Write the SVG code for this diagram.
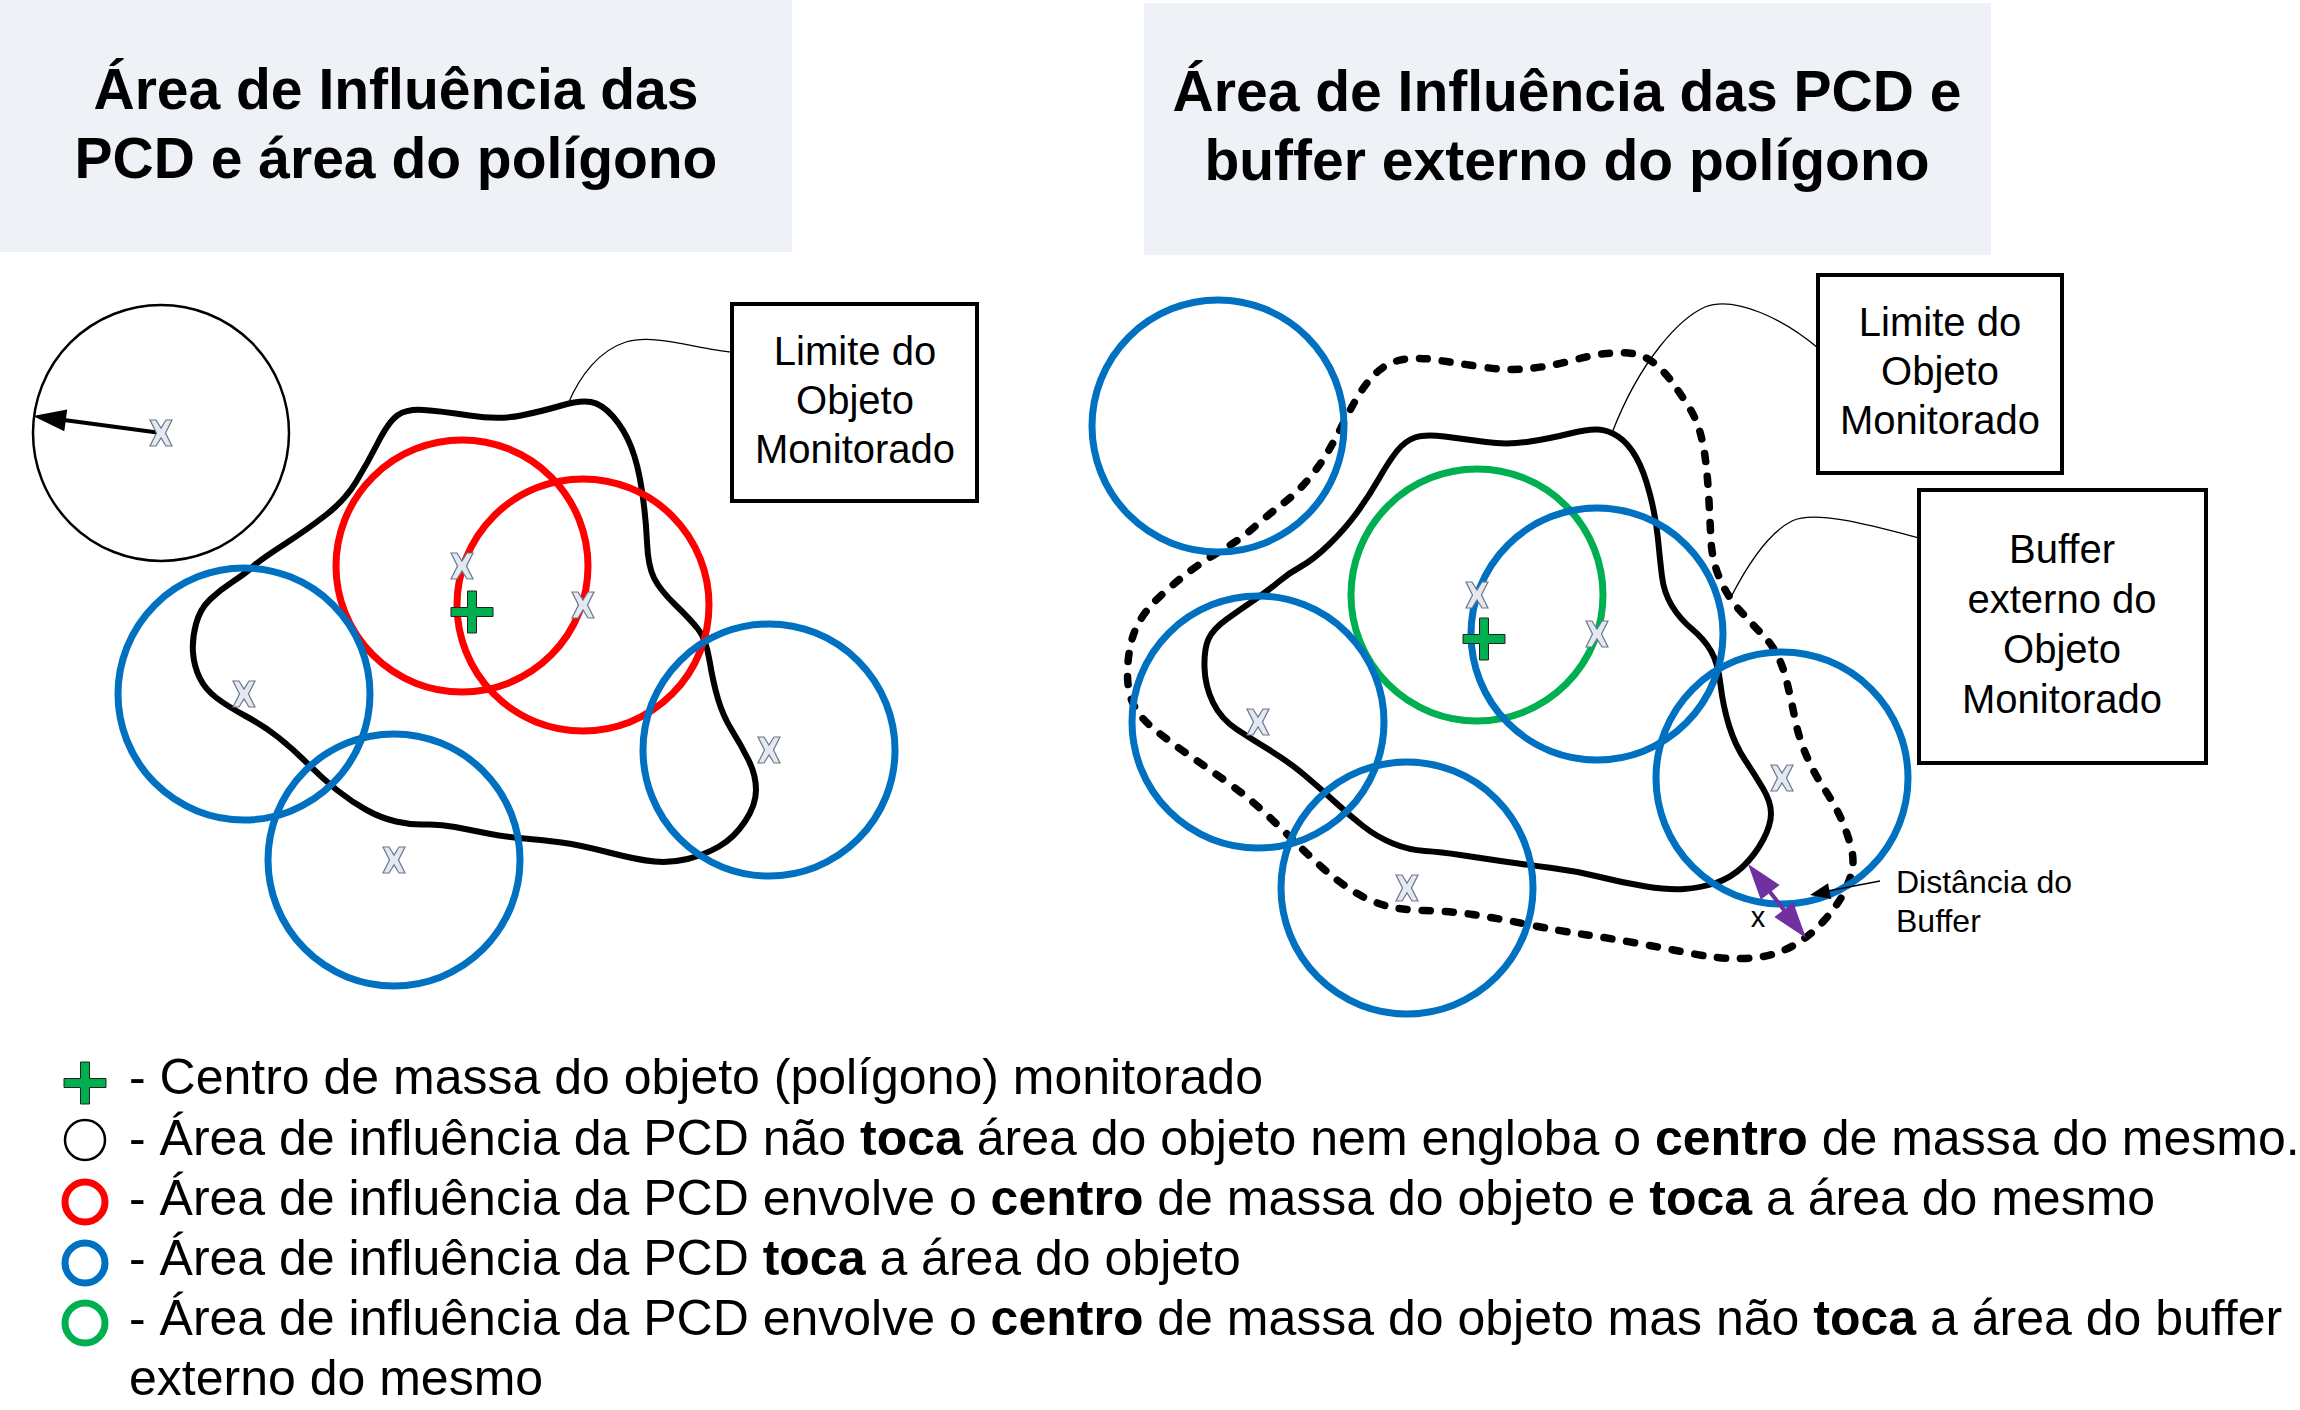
<svg xmlns="http://www.w3.org/2000/svg" width="2300" height="1410" viewBox="0 0 2300 1410">
<style>
.t{font-family:"Liberation Sans",Arial,sans-serif;fill:#000}
.b{font-weight:bold}
.hdr{fill:#EEF1F6}
.box{fill:#fff;stroke:#000;stroke-width:4}
.poly{fill:none;stroke:#000;stroke-width:6;stroke-linejoin:round}
.dash{fill:none;stroke:#000;stroke-width:7.5;stroke-dasharray:8 15;stroke-linecap:round}
.red{fill:none;stroke:#FF0000;stroke-width:7}
.blue{fill:none;stroke:#0070C0;stroke-width:7}
.green{fill:none;stroke:#00B050;stroke-width:7}
.thin{fill:none;stroke:#000;stroke-width:2.5}
.lead{fill:none;stroke:#000;stroke-width:1.3}
</style>
<defs>
<polygon id="xm" points="-11,-13 -5,-13 0,-5 5,-13 11,-13 4.5,0 11,13 5,13 0,5 -5,13 -11,13 -4.5,0" fill="#E3E8F1" stroke="#6A768A" stroke-width="1.2"/>
<polygon id="plus" points="-4.5,-21 4.5,-21 4.5,-4.5 21,-4.5 21,4.5 4.5,4.5 4.5,21 -4.5,21 -4.5,4.5 -21,4.5 -21,-4.5 -4.5,-4.5" fill="#00B050" stroke="#222" stroke-width="1"/>
</defs>
<rect width="2300" height="1410" fill="#fff"/>

<g id="title-left">
<rect class="hdr" x="0" y="0" width="792" height="252"/>
<text class="t b" font-size="57" text-anchor="middle"><tspan x="396" y="109">Área de Influência das</tspan><tspan x="396" y="178">PCD e área do polígono</tspan></text>
</g>
<g id="title-right">
<rect class="hdr" x="1144" y="3" width="847" height="252"/>
<text class="t b" font-size="57" text-anchor="middle"><tspan x="1567" y="111">Área de Influência das PCD e</tspan><tspan x="1567" y="180">buffer externo do polígono</tspan></text>
</g>

<g id="polygon-left">
<path class="poly" d="M253,566.5 Q260,560 284,544.5 Q308,529 326.5,514.5 Q345,500 356,482 Q367,464 378,442.5 Q389,421 398,415 Q407,409 423.5,410 Q440,411 469.5,415.5 Q499,420 521,415.5 Q543,411 561.5,405.5 Q580,400 591,402 Q602,404 613,416.5 Q624,429 631,446.5 Q638,464 642,491 Q646,518 647,542 Q648,566 654,578 Q660,590 675,604.5 Q690,619 698,629 Q706,639 709.5,660.5 Q713,682 718,699 Q723,716 732,730.5 Q741,745 748.5,760 Q756,775 756,790 Q756,805 745,821.5 Q734,838 719,846.5 Q704,855 687.5,859 Q671,863 654.5,861.5 Q638,860 609,852.5 Q580,845 561.5,842.5 Q543,840 524.5,838.5 Q506,837 488,833.5 Q470,830 455,827 Q440,824 425.5,824.5 Q411,825 396,821.5 Q381,818 366.5,810 Q352,802 337.5,790.5 Q323,779 308,764 Q293,749 278.5,737.5 Q264,726 245.5,716 Q227,706 216,697.5 Q205,689 199.5,677.5 Q194,666 193,652.5 Q192,639 196,624 Q200,609 210,599.5 Q220,590 233,581.5 Q246,573 253,566.5 Z"/>
</g>
<g id="buffer-right">
<path class="dash" d="M1191.5,570 Q1205,560 1223,549.5 Q1241,539 1255,526.5 Q1269,514 1283,503.5 Q1297,493 1309,478.5 Q1321,464 1329,450 Q1337,436 1345,420 Q1353,404 1361,391.5 Q1369,379 1379,370.5 Q1389,362 1403,359.5 Q1417,357 1436.5,360 Q1456,363 1482,367 Q1508,371 1530,368.5 Q1552,366 1572,360.5 Q1592,355 1606,353.5 Q1620,352 1632,353.5 Q1644,355 1654,363 Q1664,371 1672,382 Q1680,393 1688,405.5 Q1696,418 1700,432 Q1704,446 1706,464 Q1708,482 1709,501.5 Q1710,521 1711,540.5 Q1712,560 1719.5,578 Q1727,596 1739,609.5 Q1751,623 1761,633 Q1771,643 1777,654.5 Q1783,666 1787,682.5 Q1791,699 1795,719 Q1799,739 1807,757 Q1815,775 1825,790 Q1835,805 1841,818.5 Q1847,832 1851,847 Q1855,862 1851,875 Q1847,888 1841,898 Q1835,908 1825,919.5 Q1815,931 1803,939.5 Q1791,948 1777,953 Q1763,958 1741,958.5 Q1719,959 1691.5,953.5 Q1664,948 1636,943 Q1608,938 1584,934.5 Q1560,931 1528,924.5 Q1496,918 1472.5,914.5 Q1449,911 1425,910.5 Q1401,910 1385,905.5 Q1369,901 1353,891 Q1337,881 1321,866.5 Q1305,852 1293,840 Q1281,828 1265,813 Q1249,798 1229,783.5 Q1209,769 1189.5,755.5 Q1170,742 1154,729 Q1138,716 1132,701 Q1126,686 1128,662.5 Q1130,639 1138,624 Q1146,609 1162,594.5 Q1178,580 1191.5,570 Z"/>
</g>
<g id="polygon-right">
<path class="poly" d="M1301,566.5 Q1313,560 1329,544.5 Q1345,529 1357,512.5 Q1369,496 1379,478.5 Q1389,461 1397,451 Q1405,441 1415,437.5 Q1425,434 1444.5,436.5 Q1464,439 1486,442 Q1508,445 1530,441.5 Q1552,438 1570,433.5 Q1588,429 1598,429.5 Q1608,430 1618,436.5 Q1628,443 1636,457 Q1644,471 1650,494.5 Q1656,518 1658,539 Q1660,560 1662,576.5 Q1664,593 1672,606 Q1680,619 1692,629 Q1704,639 1711,651 Q1718,663 1720.5,684.5 Q1723,706 1729,725.5 Q1735,745 1745,760 Q1755,775 1763,788.5 Q1771,802 1771,813.5 Q1771,825 1763,840 Q1755,855 1743,866.5 Q1731,878 1715.5,883 Q1700,888 1684,889 Q1668,890 1646,886.5 Q1624,883 1600,877 Q1576,871 1552,868 Q1528,865 1504,861.5 Q1480,858 1460.5,855 Q1441,852 1425,851 Q1409,850 1393,843.5 Q1377,837 1363,826 Q1349,815 1335,802 Q1321,789 1305,775.5 Q1289,762 1271,751 Q1253,740 1237,729.5 Q1221,719 1213,702.5 Q1205,686 1204.5,667.5 Q1204,649 1208.5,639 Q1213,629 1227,619 Q1241,609 1255,599.5 Q1269,590 1279,581.5 Q1289,573 1301,566.5 Z"/>
</g>

<g id="pcd-black">
<circle class="thin" cx="161" cy="433" r="128"/>
<line x1="161" y1="433" x2="64" y2="420" stroke="#000" stroke-width="4"/>
<polygon points="33,416 67.2,409.5 64.3,431.3" fill="#000"/>
<use href="#xm" x="161" y="433"/>
</g>
<g id="pcd-red-1"><circle class="red" cx="462" cy="566" r="126"/></g>
<g id="pcd-red-2"><circle class="red" cx="583" cy="605" r="126"/></g>
<g id="pcd-blue-l1"><circle class="blue" cx="244" cy="694" r="126"/></g>
<g id="pcd-blue-l2"><circle class="blue" cx="394" cy="860" r="126"/></g>
<g id="pcd-blue-l3"><circle class="blue" cx="769" cy="750" r="126"/></g>

<g id="pcd-blue-r1"><circle class="blue" cx="1218" cy="426" r="126"/></g>
<g id="pcd-green"><circle class="green" cx="1477" cy="595" r="126"/></g>
<g id="pcd-blue-r2"><circle class="blue" cx="1597" cy="634" r="126"/></g>
<g id="pcd-blue-r3"><circle class="blue" cx="1258" cy="722" r="126"/></g>
<g id="pcd-blue-r4"><circle class="blue" cx="1407" cy="888" r="126"/></g>
<g id="pcd-blue-r5"><circle class="blue" cx="1782" cy="778" r="126"/></g>

<g id="markers">
<use href="#xm" x="462" y="566"/>
<use href="#xm" x="583" y="605"/>
<use href="#xm" x="244" y="694"/>
<use href="#xm" x="394" y="860"/>
<use href="#xm" x="769" y="750"/>
<use href="#xm" x="1477" y="595"/>
<use href="#xm" x="1597" y="634"/>
<use href="#xm" x="1258" y="722"/>
<use href="#xm" x="1407" y="888"/>
<use href="#xm" x="1782" y="778"/>
<use href="#plus" x="472" y="612"/>
<use href="#plus" x="1484" y="639"/>
</g>

<g id="box-limite-left">
<rect class="box" x="732" y="304" width="245" height="197"/>
<text class="t" font-size="40" text-anchor="middle"><tspan x="855" y="365">Limite do</tspan><tspan x="855" y="414">Objeto</tspan><tspan x="855" y="463">Monitorado</tspan></text>
</g>
<g id="box-limite-right">
<rect class="box" x="1818" y="275" width="244" height="198"/>
<text class="t" font-size="40" text-anchor="middle"><tspan x="1940" y="336">Limite do</tspan><tspan x="1940" y="385">Objeto</tspan><tspan x="1940" y="434">Monitorado</tspan></text>
</g>
<g id="box-buffer">
<rect class="box" x="1919" y="490" width="287" height="273"/>
<text class="t" font-size="40" text-anchor="middle"><tspan x="2062" y="563">Buffer</tspan><tspan x="2062" y="613">externo do</tspan><tspan x="2062" y="663">Objeto</tspan><tspan x="2062" y="713">Monitorado</tspan></text>
</g>
<g id="label-distancia">
<text class="t" font-size="32"><tspan x="1896" y="893">Distância do</tspan><tspan x="1896" y="932">Buffer</tspan></text>
<text class="t" font-size="29" text-anchor="middle" x="1758" y="927">x</text>
</g>

<g id="connectors">
<path class="lead" d="M732,352 C700,350 655,333 626,342 C600,350 580,375 568,404"/>
<path class="lead" d="M1818,348 C1785,320 1735,295 1705,307 C1680,318 1640,360 1612,433"/>
<path class="lead" d="M1919,538 C1870,525 1815,510 1792,521 C1770,532 1750,560 1731,597"/>
<path class="lead" d="M1880,881 L1828,891"/>
<polygon points="1810,895 1831.2,898.9 1828,883.3" fill="#000"/>
<line x1="1770" y1="892" x2="1784" y2="910" stroke="#7030A0" stroke-width="4"/>
<polygon points="1748,864 1779.6,884.9 1760.8,899.7" fill="#7030A0"/>
<polygon points="1806,938 1793.2,902.3 1774.4,917.1" fill="#7030A0"/>
</g>

<g id="legend">
<use href="#plus" x="85" y="1083"/>
<circle cx="85" cy="1140" r="20" fill="none" stroke="#000" stroke-width="2.5"/>
<circle cx="85" cy="1202" r="20" fill="none" stroke="#FF0000" stroke-width="7"/>
<circle cx="85" cy="1263" r="20" fill="none" stroke="#0070C0" stroke-width="7"/>
<circle cx="85" cy="1323" r="20" fill="none" stroke="#00B050" stroke-width="7"/>
<g class="t" font-size="50">
<text class="t" x="129" y="1094">- Centro de massa do objeto (polígono) monitorado</text>
<text class="t" x="129" y="1155">- Área de influência da PCD não <tspan class="b">toca</tspan> área do objeto nem engloba o <tspan class="b">centro</tspan> de massa do mesmo.</text>
<text class="t" x="129" y="1215">- Área de influência da PCD envolve o <tspan class="b">centro</tspan> de massa do objeto e <tspan class="b">toca</tspan> a área do mesmo</text>
<text class="t" x="129" y="1275">- Área de influência da PCD <tspan class="b">toca</tspan> a área do objeto</text>
<text class="t" x="129" y="1335">- Área de influência da PCD envolve o <tspan class="b">centro</tspan> de massa do objeto mas não <tspan class="b">toca</tspan> a área do buffer</text>
<text class="t" x="129" y="1395">externo do mesmo</text>
</g>
</g>
</svg>
